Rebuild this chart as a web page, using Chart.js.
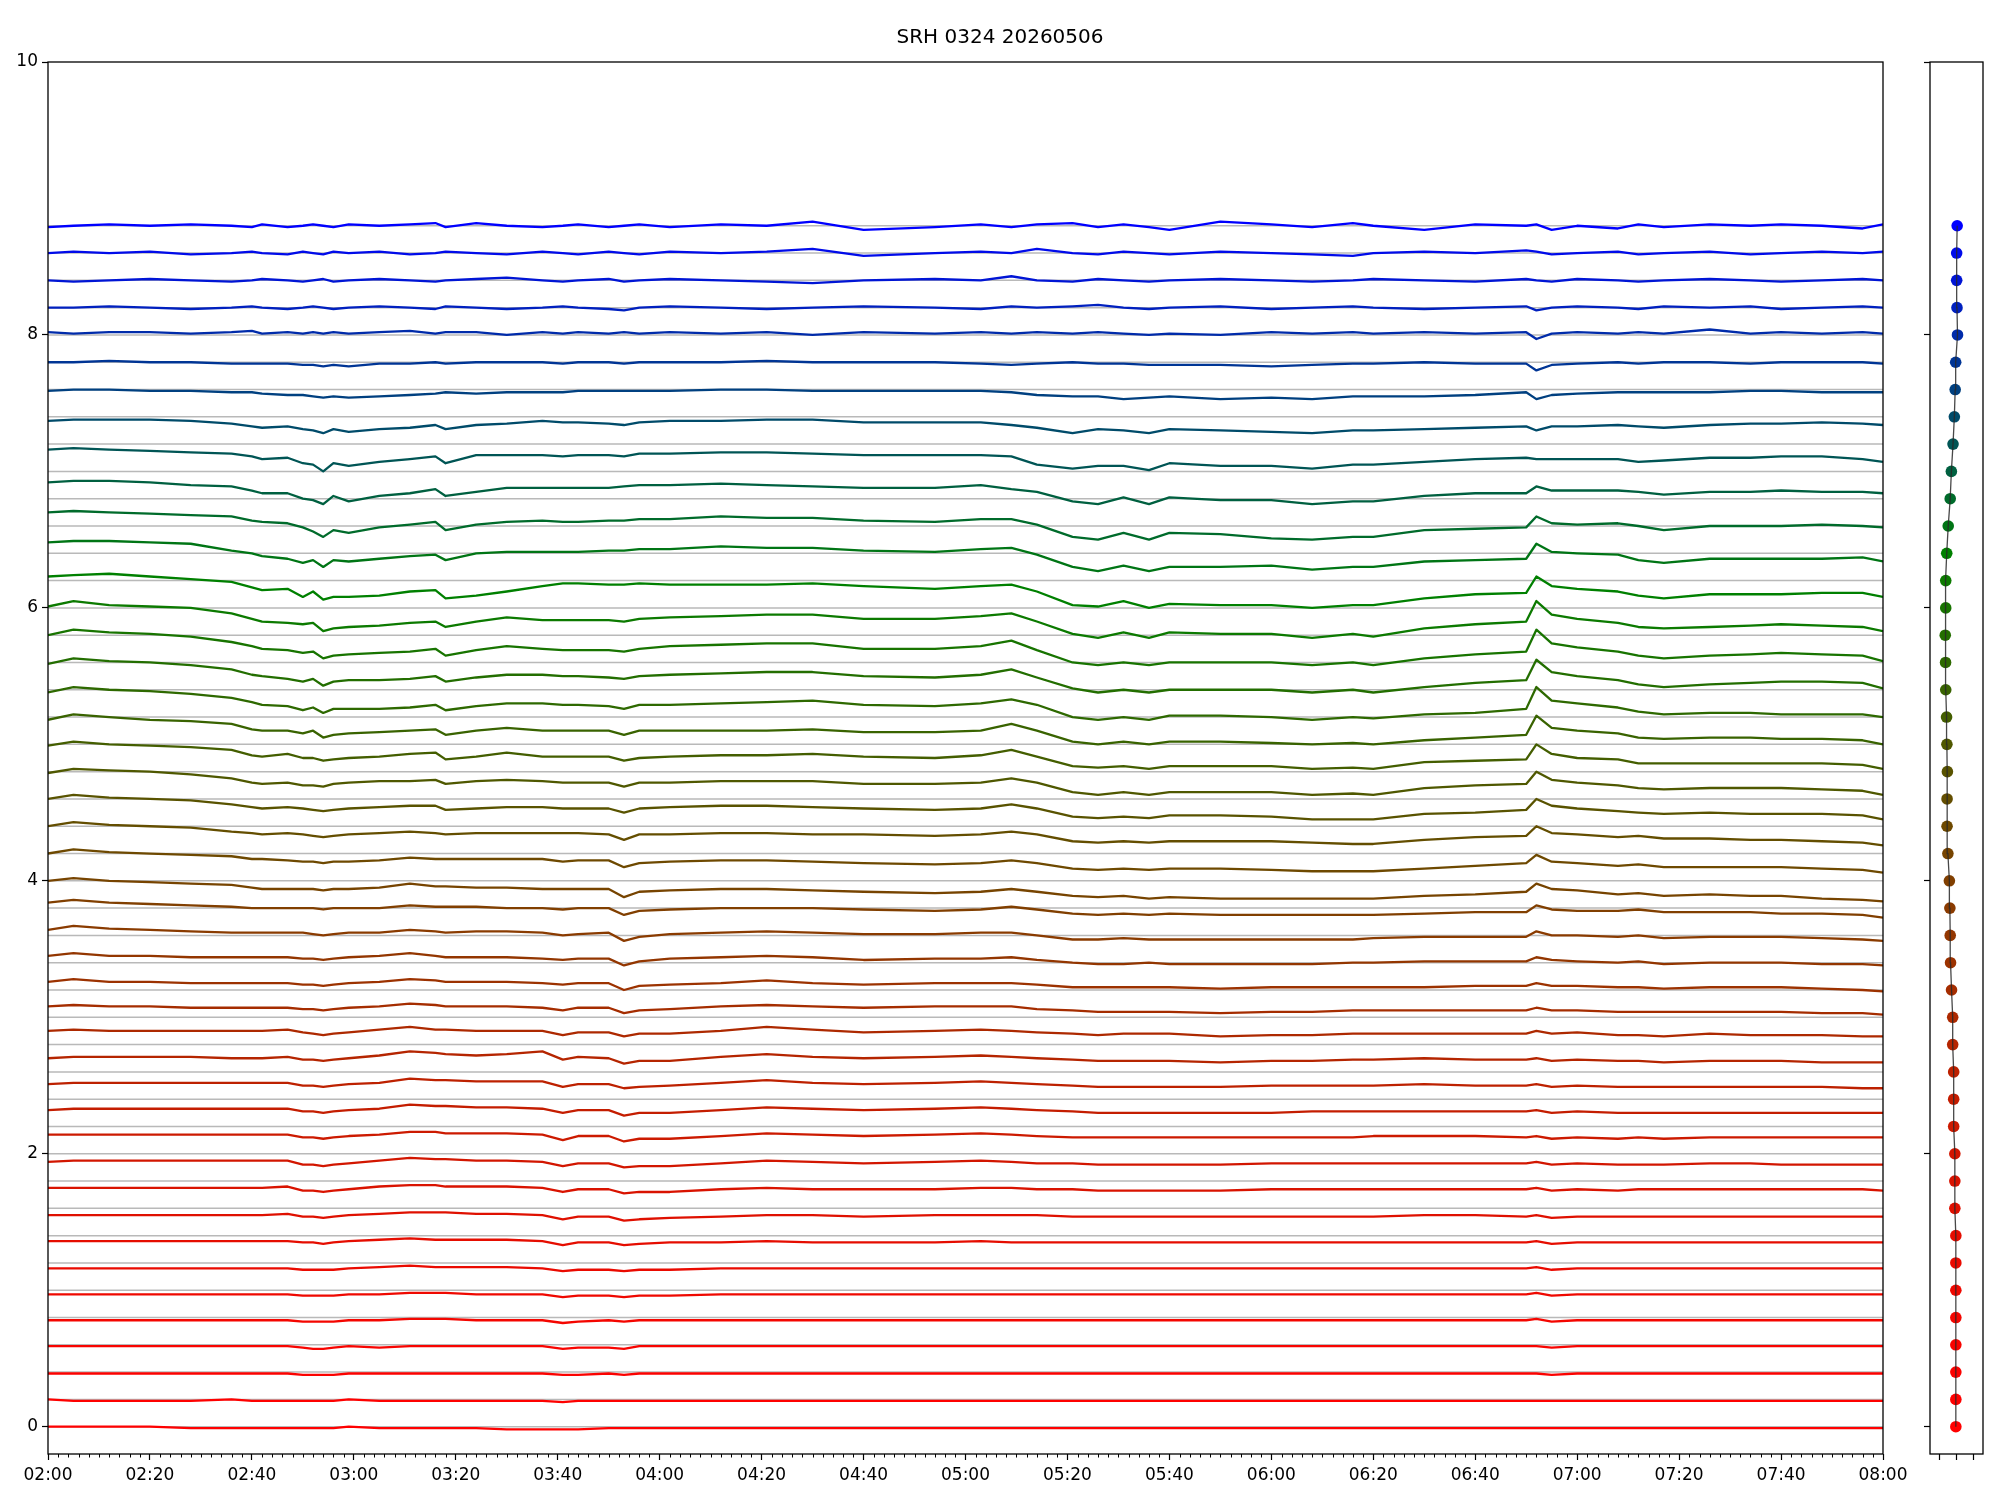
<!DOCTYPE html>
<html>
<head>
<meta charset="utf-8">
<title>SRH 0324 20260506</title>
<script src="https://cdn.jsdelivr.net/npm/chart.js@4.4.1/dist/chart.umd.min.js"></script>
<style>
  html, body { margin: 0; padding: 0; background: #fff; }
  #wrap { position: relative; width: 2000px; height: 1500px; }
  #main { position: absolute; left: 0; top: 0; }
  #side { position: absolute; left: 1900px; top: 0; }
</style>
</head>
<body>
<div id="wrap">
  <canvas id="main" width="1925" height="1500"></canvas>
  <canvas id="side" width="100" height="1500"></canvas>
</div>
<script>
const plotTitle = 'SRH 0324 20260506';

// minutes after 02:00
const times = [0,5,12,20,28,36,40,42,47,50,52,54,56,59,65,71,76,78,84,90,
  97,101,104,110,113,116,122,132,141,150,160,174,183,189,194,201,206,211,216,220,
  230,240,248,256,260,270,280,290,292,295,300,308,312,317,326,334,340,348,356,360];

const baselines = [0,0.2,0.4,0.6,0.8,1,1.2,1.4,1.6,1.8,2,2.2,2.4,2.6,2.8,3,3.2,3.4,3.6,3.8,
  4,4.2,4.4,4.6,4.8,5,5.2,5.4,5.6,5.8,6,6.2,6.4,6.6,6.8,7,7.2,7.4,7.6,7.8,8,8.2,8.4,8.6,8.8];

const yTicks = [0, 2, 4, 6, 8, 10];
const xMajorStep = 20;
const xMinorStep = 2;
const sideTicks = [-1, 0, 1];

// x position of each channel dot in the side panel (bottom to top)
const dotX = [-0.04,-0.04,-0.04,-0.04,-0.04,-0.04,-0.04,-0.04,-0.1,-0.1,
  -0.1,-0.17,-0.17,-0.17,-0.23,-0.23,-0.3,-0.36,-0.38,-0.4,
  -0.43,-0.52,-0.57,-0.57,-0.55,-0.58,-0.6,-0.65,-0.66,-0.68,
  -0.65,-0.65,-0.59,-0.5,-0.38,-0.31,-0.21,-0.13,-0.08,-0.05,
  0.06,0.03,0.01,0.01,0.04];

// trace offsets from each baseline, in hundredths (bottom to top)
const redRows = [
  [0,0,0,0,-1,-1,-1,-1,-1,-1,-1,-1,-1,0,-1,-1,-1,-1,-1,-2,-2,-2,-2,-1,-1,-1,-1,-1,-1,-1,-1,-1,-1,-1,-1,-1,-1,-1,-1,-1,-1,-1,-1,-1,-1,-1,-1,-1,-1,-1,-1,-1,-1,-1,-1,-1,-1,-1,-1,-1],
  [0,-1,-1,-1,-1,0,-1,-1,-1,-1,-1,-1,-1,0,-1,-1,-1,-1,-1,-1,-1,-2,-1,-1,-1,-1,-1,-1,-1,-1,-1,-1,-1,-1,-1,-1,-1,-1,-1,-1,-1,-1,-1,-1,-1,-1,-1,-1,-1,-1,-1,-1,-1,-1,-1,-1,-1,-1,-1,-1],
  [-1,-1,-1,-1,-1,-1,-1,-1,-1,-2,-2,-2,-2,-1,-1,-1,-1,-1,-1,-1,-1,-2,-2,-1,-2,-1,-1,-1,-1,-1,-1,-1,-1,-1,-1,-1,-1,-1,-1,-1,-1,-1,-1,-1,-1,-1,-1,-1,-1,-2,-1,-1,-1,-1,-1,-1,-1,-1,-1,-1],
  [-1,-1,-1,-1,-1,-1,-1,-1,-1,-2,-3,-3,-2,-1,-2,-1,-1,-1,-1,-1,-1,-3,-2,-2,-3,-1,-1,-1,-1,-1,-1,-1,-1,-1,-1,-1,-1,-1,-1,-1,-1,-1,-1,-1,-1,-1,-1,-1,-1,-2,-1,-1,-1,-1,-1,-1,-1,-1,-1,-1],
  [-2,-2,-2,-2,-2,-2,-2,-2,-2,-3,-3,-3,-3,-2,-2,-1,-1,-1,-2,-2,-2,-4,-3,-2,-3,-2,-2,-2,-2,-2,-2,-2,-2,-2,-2,-2,-2,-2,-2,-2,-2,-2,-2,-2,-2,-2,-2,-2,-1,-3,-2,-2,-2,-2,-2,-2,-2,-2,-2,-2],
  [-3,-3,-3,-3,-3,-3,-3,-3,-3,-4,-4,-4,-4,-3,-3,-2,-2,-2,-3,-3,-3,-5,-4,-4,-5,-4,-4,-3,-3,-3,-3,-3,-3,-3,-3,-3,-3,-3,-3,-3,-3,-3,-3,-3,-3,-3,-3,-3,-2,-4,-3,-3,-3,-3,-3,-3,-3,-3,-3,-3],
  [-4,-4,-4,-4,-4,-4,-4,-4,-4,-5,-5,-5,-5,-4,-3,-2,-3,-3,-3,-3,-4,-6,-5,-5,-6,-5,-5,-4,-4,-4,-4,-4,-4,-4,-4,-4,-4,-4,-4,-4,-4,-4,-4,-4,-4,-4,-4,-4,-3,-5,-4,-4,-4,-4,-4,-4,-4,-4,-4,-4],
  [-4,-4,-4,-4,-4,-4,-4,-4,-4,-5,-5,-6,-5,-4,-3,-2,-3,-3,-3,-3,-4,-7,-5,-5,-7,-6,-5,-5,-4,-5,-5,-5,-4,-5,-5,-5,-5,-5,-5,-5,-5,-5,-5,-5,-5,-5,-5,-5,-4,-6,-5,-5,-5,-5,-5,-5,-5,-5,-5,-5],
  [-5,-5,-5,-5,-5,-5,-5,-5,-4,-6,-6,-7,-6,-5,-4,-3,-3,-3,-4,-4,-5,-8,-6,-6,-9,-8,-7,-6,-5,-5,-6,-5,-5,-5,-5,-6,-6,-6,-6,-6,-6,-6,-6,-6,-6,-5,-5,-6,-5,-7,-6,-6,-6,-6,-6,-6,-6,-6,-6,-6]
];

const brownRows = [
  [-5,-5,-5,-5,-5,-5,-5,-5,-4,-7,-7,-8,-7,-6,-4,-3,-3,-4,-4,-4,-5,-8,-6,-6,-9,-8,-8,-6,-5,-6,-6,-6,-5,-5,-6,-6,-7,-7,-7,-7,-7,-6,-6,-6,-6,-6,-6,-6,-5,-7,-6,-7,-6,-6,-6,-6,-6,-6,-6,-7],
  [-6,-5,-5,-5,-5,-5,-5,-5,-5,-8,-8,-9,-8,-7,-5,-3,-4,-4,-5,-5,-6,-9,-7,-7,-10,-9,-9,-7,-5,-6,-7,-6,-5,-6,-7,-7,-8,-8,-8,-8,-8,-7,-7,-7,-7,-7,-7,-7,-6,-8,-7,-8,-8,-8,-7,-7,-8,-8,-8,-8],
  [-6,-6,-6,-6,-6,-6,-6,-6,-6,-8,-8,-9,-8,-7,-6,-4,-4,-5,-5,-5,-6,-10,-7,-7,-11,-9,-9,-7,-5,-6,-7,-6,-5,-6,-7,-8,-8,-8,-8,-8,-8,-8,-8,-8,-7,-7,-7,-8,-7,-9,-8,-9,-8,-9,-8,-8,-8,-8,-8,-8],
  [-8,-7,-7,-7,-7,-7,-7,-7,-7,-9,-9,-10,-9,-8,-7,-4,-5,-5,-6,-6,-7,-10,-8,-8,-12,-10,-10,-8,-6,-7,-8,-7,-6,-7,-8,-9,-10,-10,-10,-10,-10,-10,-9,-9,-9,-9,-9,-9,-8,-10,-9,-10,-10,-10,-10,-10,-10,-10,-10,-10],
  [-9,-8,-8,-8,-8,-8,-8,-8,-8,-10,-10,-11,-10,-9,-8,-5,-6,-6,-7,-7,-7,-11,-9,-9,-12,-11,-10,-8,-6,-8,-9,-8,-7,-8,-9,-10,-11,-11,-11,-11,-11,-10,-10,-10,-10,-9,-10,-10,-9,-11,-10,-11,-11,-11,-11,-11,-11,-11,-12,-12],
  [-10,-9,-9,-9,-9,-10,-10,-10,-9,-11,-11,-12,-11,-10,-8,-5,-6,-7,-8,-7,-5,-11,-9,-10,-14,-12,-12,-9,-7,-9,-10,-9,-8,-9,-10,-11,-12,-12,-12,-12,-13,-12,-12,-11,-11,-10,-11,-11,-10,-12,-11,-12,-12,-13,-12,-12,-12,-13,-13,-13],
  [-10,-9,-10,-10,-10,-10,-10,-10,-9,-11,-12,-13,-12,-11,-9,-7,-9,-9,-10,-10,-10,-13,-11,-11,-14,-12,-12,-10,-7,-9,-11,-10,-9,-10,-11,-12,-13,-12,-12,-12,-14,-13,-13,-12,-12,-12,-12,-12,-10,-12,-11,-13,-13,-14,-12,-13,-13,-13,-14,-14],
  [-12,-11,-12,-12,-13,-13,-13,-13,-13,-14,-14,-15,-14,-13,-12,-10,-11,-12,-12,-12,-13,-15,-13,-13,-17,-15,-14,-12,-11,-12,-13,-12,-12,-12,-14,-15,-16,-16,-16,-16,-17,-16,-16,-15,-15,-15,-15,-15,-13,-15,-15,-16,-16,-16,-16,-16,-16,-17,-17,-18],
  [-14,-12,-14,-14,-15,-15,-15,-15,-15,-16,-16,-17,-16,-15,-14,-12,-13,-14,-14,-14,-15,-16,-15,-15,-20,-17,-16,-15,-13,-15,-16,-15,-15,-15,-16,-18,-18,-18,-18,-18,-19,-18,-18,-18,-18,-18,-17,-17,-15,-17,-17,-18,-18,-19,-18,-18,-18,-19,-20,-21],
  [-15,-13,-15,-15,-16,-16,-16,-16,-16,-17,-17,-18,-17,-16,-15,-13,-15,-16,-16,-16,-17,-18,-17,-17,-22,-19,-17,-16,-15,-16,-18,-17,-17,-16,-18,-20,-21,-21,-20,-21,-21,-21,-21,-20,-20,-19,-19,-19,-16,-18,-19,-20,-19,-21,-20,-20,-20,-21,-21,-22],
  [-16,-13,-15,-16,-17,-18,-18,-18,-18,-18,-19,-20,-19,-18,-18,-16,-17,-18,-17,-17,-18,-20,-19,-18,-24,-21,-19,-18,-17,-18,-19,-19,-18,-18,-20,-23,-23,-22,-23,-23,-23,-23,-23,-23,-22,-21,-21,-21,-17,-20,-20,-21,-20,-22,-21,-21,-21,-22,-23,-24],
  [-16,-14,-16,-17,-18,-19,-20,-20,-20,-20,-20,-21,-20,-20,-20,-18,-19,-19,-19,-20,-20,-21,-20,-20,-25,-22,-21,-20,-20,-20,-21,-22,-21,-19,-21,-24,-25,-24,-25,-24,-25,-25,-25,-25,-25,-24,-23,-23,-18,-21,-22,-22,-21,-23,-23,-23,-24,-24,-25,-27]
];

const oliveRows = [
  [-20,-18,-20,-21,-22,-23,-25,-26,-26,-26,-26,-27,-26,-26,-25,-22,-24,-24,-25,-25,-26,-26,-26,-26,-32,-28,-27,-26,-26,-27,-28,-29,-28,-26,-28,-31,-32,-31,-33,-32,-33,-33,-33,-33,-33,-31,-30,-28,-22,-26,-27,-30,-29,-31,-30,-31,-31,-33,-34,-35],
  [-20,-17,-19,-20,-21,-22,-24,-24,-25,-26,-26,-27,-26,-26,-25,-23,-24,-24,-24,-24,-24,-26,-25,-25,-30,-27,-26,-25,-25,-26,-27,-28,-27,-25,-27,-31,-32,-31,-32,-31,-31,-32,-33,-33,-33,-31,-29,-27,-21,-26,-27,-29,-28,-30,-30,-30,-30,-31,-32,-34],
  [-20,-17,-19,-20,-21,-24,-25,-26,-25,-26,-27,-28,-27,-26,-25,-24,-25,-26,-25,-25,-25,-25,-25,-26,-30,-26,-26,-25,-25,-26,-26,-27,-26,-24,-26,-31,-32,-31,-32,-31,-31,-31,-32,-33,-33,-30,-28,-27,-20,-25,-26,-28,-27,-29,-29,-30,-30,-31,-32,-34],
  [-20,-17,-19,-20,-21,-24,-26,-27,-26,-27,-28,-29,-28,-27,-26,-25,-25,-28,-27,-26,-26,-27,-27,-27,-30,-27,-26,-25,-25,-26,-27,-28,-27,-24,-27,-33,-34,-33,-34,-32,-32,-33,-35,-35,-35,-31,-30,-28,-20,-25,-27,-29,-30,-31,-30,-31,-31,-31,-32,-35],
  [-21,-18,-19,-20,-22,-25,-28,-29,-28,-30,-30,-31,-29,-28,-27,-27,-26,-29,-27,-26,-27,-28,-28,-28,-31,-28,-28,-27,-27,-27,-29,-29,-28,-25,-28,-35,-37,-35,-37,-35,-35,-35,-37,-36,-37,-32,-30,-29,-20,-26,-28,-30,-32,-33,-32,-32,-32,-33,-34,-37],
  [-21,-18,-20,-21,-22,-24,-28,-29,-27,-30,-30,-32,-31,-30,-29,-27,-26,-31,-29,-26,-29,-29,-29,-29,-32,-30,-29,-28,-28,-27,-29,-30,-28,-24,-29,-36,-37,-36,-38,-36,-36,-36,-38,-37,-38,-33,-32,-31,-20,-27,-30,-31,-34,-34,-34,-34,-34,-34,-35,-38],
  [-22,-18,-20,-22,-23,-25,-29,-30,-30,-32,-30,-35,-33,-32,-31,-30,-29,-33,-30,-28,-30,-30,-30,-30,-33,-30,-30,-30,-30,-29,-31,-31,-30,-25,-30,-38,-40,-38,-40,-38,-38,-39,-40,-39,-40,-37,-35,-33,-19,-28,-30,-32,-35,-36,-35,-35,-36,-36,-37,-40]
];

const greenRows = [
  [-22,-18,-20,-21,-23,-26,-29,-31,-32,-35,-33,-37,-34,-34,-34,-33,-31,-35,-32,-30,-30,-31,-31,-32,-34,-31,-31,-30,-29,-28,-31,-32,-30,-27,-31,-40,-42,-40,-42,-39,-39,-40,-42,-40,-41,-38,-37,-34,-18,-28,-30,-33,-36,-38,-37,-37,-38,-38,-38,-40],
  [-21,-17,-19,-20,-22,-25,-29,-30,-32,-34,-32,-37,-34,-33,-33,-32,-30,-34,-31,-29,-29,-30,-30,-31,-32,-30,-29,-28,-27,-27,-30,-31,-29,-25,-31,-39,-42,-40,-42,-40,-40,-40,-42,-40,-42,-38,-35,-33,-18,-27,-30,-33,-36,-38,-36,-35,-34,-34,-35,-39],
  [-20,-16,-18,-19,-21,-25,-28,-30,-31,-33,-32,-37,-35,-34,-33,-32,-30,-35,-31,-28,-30,-31,-31,-31,-32,-30,-28,-27,-26,-26,-30,-30,-28,-24,-31,-40,-42,-40,-42,-40,-40,-40,-42,-40,-42,-37,-34,-32,-16,-26,-29,-32,-35,-37,-35,-34,-33,-34,-35,-39],
  [-19,-15,-18,-19,-20,-24,-28,-30,-31,-32,-31,-37,-35,-34,-33,-31,-30,-34,-30,-27,-29,-29,-29,-29,-30,-28,-27,-26,-25,-25,-28,-28,-26,-24,-30,-39,-42,-38,-42,-38,-39,-39,-42,-39,-41,-35,-32,-30,-15,-25,-28,-31,-34,-35,-34,-33,-32,-33,-34,-37],
  [-17,-16,-15,-17,-19,-21,-25,-27,-26,-32,-28,-34,-32,-32,-31,-28,-27,-33,-31,-28,-24,-22,-22,-23,-23,-22,-23,-23,-23,-22,-24,-26,-24,-23,-28,-38,-39,-35,-40,-37,-38,-38,-40,-38,-38,-33,-30,-29,-17,-24,-26,-28,-31,-33,-30,-30,-30,-29,-29,-32],
  [-12,-11,-11,-12,-13,-18,-20,-22,-24,-27,-25,-30,-25,-26,-24,-22,-21,-25,-20,-19,-19,-19,-19,-18,-18,-17,-17,-15,-16,-16,-18,-19,-17,-16,-21,-30,-33,-29,-33,-30,-30,-29,-32,-30,-30,-26,-25,-24,-13,-19,-20,-21,-25,-27,-24,-24,-24,-24,-23,-26],
  [-10,-9,-10,-11,-12,-13,-16,-17,-18,-21,-24,-28,-23,-25,-21,-19,-17,-23,-19,-17,-16,-17,-17,-16,-16,-15,-15,-13,-14,-14,-16,-17,-15,-15,-19,-28,-30,-25,-30,-25,-26,-29,-30,-28,-28,-23,-22,-21,-13,-18,-19,-18,-20,-23,-20,-20,-20,-19,-20,-21],
  [-8,-7,-7,-8,-10,-11,-14,-16,-16,-20,-21,-24,-18,-22,-18,-16,-13,-18,-15,-12,-12,-12,-12,-12,-11,-10,-10,-9,-10,-11,-12,-12,-10,-13,-15,-22,-24,-19,-24,-19,-21,-21,-24,-22,-22,-18,-16,-16,-11,-14,-14,-14,-15,-17,-15,-15,-14,-15,-15,-16]
];

const tealRows = [
  [-4,-3,-4,-5,-6,-7,-9,-11,-10,-14,-15,-20,-14,-16,-13,-11,-9,-14,-8,-8,-8,-9,-8,-8,-9,-7,-7,-6,-6,-7,-8,-8,-8,-9,-15,-18,-16,-16,-19,-14,-16,-16,-18,-15,-15,-13,-11,-10,-11,-11,-11,-11,-13,-12,-10,-10,-9,-9,-11,-13],
  [-3,-2,-2,-2,-3,-5,-7,-8,-7,-9,-10,-12,-9,-11,-9,-8,-6,-9,-6,-5,-3,-4,-4,-5,-6,-4,-3,-3,-2,-2,-4,-4,-4,-6,-8,-12,-9,-10,-12,-9,-10,-11,-12,-10,-10,-9,-8,-7,-10,-7,-7,-6,-7,-8,-6,-5,-5,-4,-5,-6],
  [-1,0,0,-1,-1,-2,-2,-3,-4,-4,-5,-6,-5,-6,-5,-4,-3,-2,-3,-2,-2,-2,-1,-1,-1,-1,-1,0,0,-1,-1,-1,-1,-2,-4,-5,-5,-7,-6,-5,-7,-6,-7,-5,-5,-5,-4,-2,-7,-4,-3,-2,-2,-2,-2,-1,-1,-2,-2,-2],
  [0,0,1,0,0,-1,-1,-1,-1,-2,-2,-3,-2,-3,-1,-1,0,-1,0,0,0,-1,0,0,-1,0,0,0,1,0,0,0,-1,-2,-1,0,-1,-1,-2,-2,-2,-3,-2,-1,-1,0,-1,-1,-6,-2,-1,0,-1,0,0,-1,0,0,0,-1]
];

const blueRows = [
  [2,1,2,2,1,2,3,1,2,1,2,1,2,1,2,3,1,2,2,0,2,1,2,1,2,1,2,1,2,0,2,1,2,1,2,1,2,1,0,1,0,2,1,2,1,2,1,2,-3,1,2,1,2,1,4,1,2,1,2,1],
  [0,0,1,0,-1,0,1,0,-1,0,1,0,-1,0,1,0,-1,1,0,-1,0,1,0,-1,-2,0,1,0,-1,0,1,0,-1,1,0,1,2,0,-1,0,1,-1,0,1,0,-1,0,1,-2,0,1,0,-1,1,0,1,-1,0,1,0],
  [0,-1,0,1,0,-1,0,1,0,-1,0,1,-1,0,1,0,-1,0,1,2,0,-1,0,1,-1,0,1,0,-1,-2,0,1,0,3,0,-1,1,0,-1,0,1,0,-1,0,1,0,-1,1,0,-1,1,0,-1,0,1,0,-1,0,1,0],
  [0,1,0,1,-1,0,1,0,-1,1,0,-1,1,0,1,-1,0,1,0,-1,1,0,-1,1,0,-1,1,0,1,3,-2,0,1,0,3,0,-1,1,0,-1,1,0,-1,-2,0,1,0,2,1,-1,0,1,-1,0,1,-1,0,1,0,1],
  [-1,0,1,0,1,0,-1,1,-1,0,1,0,-1,1,0,1,2,-1,2,0,-1,0,1,-1,0,1,-1,1,0,3,-3,-1,1,-1,1,2,-1,1,-1,-3,3,1,-1,2,0,-3,1,0,1,-3,0,-2,1,-1,1,0,1,0,-2,1]
];

const rows = [...redRows, ...brownRows, ...oliveRows, ...greenRows, ...tealRows, ...blueRows];

// red -> green -> blue palette across the channels
function rowColor(i) {
  const last = baselines.length - 1;
  const mid = 32;
  let c;
  if (i <= mid) {
    const s = Math.pow(i / mid, 1.5);
    c = [255 * (1 - s), 128 * s, 0];
  } else {
    const s = (i - mid) / (last - mid);
    c = [0, 128 * (1 - s), 255 * s];
  }
  return 'rgb(' + c.map(Math.round).join(',') + ')';
}

function clockLabel(v) {
  const h = 2 + Math.floor(v / 60);
  const m = v % 60;
  return String(h).padStart(2, '0') + ':' + String(m).padStart(2, '0');
}

function rangeSteps(from, to, step) {
  const out = [];
  for (let v = from; v <= to; v += step) out.push(v);
  return out;
}

const tStart = times[0];
const tEnd = times[times.length - 1];
const tickFont = { family: 'DejaVu Sans', size: 17 };

const frameBox = {
  id: 'frameBox',
  afterDraw(chart) {
    const { ctx, chartArea: a } = chart;
    ctx.save();
    ctx.strokeStyle = '#000';
    ctx.lineWidth = 1.3;
    ctx.strokeRect(a.left, a.top, a.right - a.left, a.bottom - a.top);
    ctx.restore();
  }
};

const minorTicks = {
  id: 'minorTicks',
  afterDraw(chart) {
    const { ctx, chartArea: a } = chart;
    const xs = chart.scales.x;
    ctx.save();
    ctx.strokeStyle = '#000';
    ctx.lineWidth = 1;
    ctx.beginPath();
    rangeSteps(tStart, tEnd, xMinorStep).forEach(v => {
      if (v % xMajorStep === 0) return;
      const px = Math.round(xs.getPixelForValue(v)) + 0.5;
      ctx.moveTo(px, a.bottom);
      ctx.lineTo(px, a.bottom + 3.5);
    });
    ctx.stroke();
    ctx.restore();
  }
};

const titleText = {
  id: 'titleText',
  afterDraw(chart) {
    const ctx = chart.ctx;
    ctx.save();
    ctx.fillStyle = '#000';
    ctx.font = '20px "DejaVu Sans"';
    ctx.textAlign = 'center';
    ctx.textBaseline = 'middle';
    ctx.fillText(plotTitle, 1000, 38);
    ctx.restore();
  }
};

const guideSets = baselines.map(b => ({
  data: [{ x: tStart, y: b }, { x: tEnd, y: b }],
  borderColor: 'rgb(185,185,185)',
  borderWidth: 1.5,
  pointRadius: 0,
  order: 2
}));

const traceSets = rows.map((row, i) => ({
  data: row.map((d, k) => ({ x: times[k], y: baselines[i] + d / 100 })),
  borderColor: rowColor(i),
  borderWidth: 2.3,
  borderJoinStyle: 'round',
  pointRadius: 0,
  order: 1
}));

new Chart(document.getElementById('main'), {
  type: 'line',
  data: { datasets: [...traceSets, ...guideSets] },
  options: {
    responsive: false,
    animation: false,
    devicePixelRatio: 1,
    parsing: false,
    layout: { padding: { left: 0, top: 62, right: 42, bottom: 0 } },
    plugins: { legend: { display: false }, tooltip: { enabled: false } },
    elements: { line: { tension: 0 } },
    scales: {
      x: {
        type: 'linear',
        min: tStart,
        max: tEnd,
        afterBuildTicks: ax => { ax.ticks = rangeSteps(tStart, tEnd, xMajorStep).map(v => ({ value: v })); },
        afterFit: ax => { ax.height = 46; },
        ticks: { autoSkip: false, maxRotation: 0, padding: 5, color: '#000', font: tickFont, callback: v => clockLabel(v) },
        grid: { drawOnChartArea: false, tickLength: 6, tickColor: '#000', tickWidth: 1.2 },
        border: { display: false }
      },
      y: {
        type: 'linear',
        min: -0.2,
        max: 10,
        afterBuildTicks: ax => { ax.ticks = yTicks.map(v => ({ value: v })); },
        afterFit: ax => { ax.width = 48; },
        ticks: { padding: 4, color: '#000', font: tickFont, callback: v => String(v) },
        grid: { drawOnChartArea: false, tickLength: 6, tickColor: '#000', tickWidth: 1.2 },
        border: { display: false }
      }
    }
  },
  plugins: [frameBox, minorTicks, titleText]
});

const dotPoints = baselines.map((b, i) => ({ x: dotX[i], y: b }));

new Chart(document.getElementById('side'), {
  type: 'scatter',
  data: {
    datasets: [
      {
        data: dotPoints,
        showLine: true,
        borderColor: 'rgba(40,40,40,0.85)',
        borderWidth: 1.3,
        pointRadius: 0,
        order: 0
      },
      {
        data: dotPoints,
        showLine: false,
        pointRadius: 5.8,
        pointBorderWidth: 0,
        pointBackgroundColor: baselines.map((b, i) => rowColor(i)),
        order: 1
      }
    ]
  },
  options: {
    responsive: false,
    animation: false,
    devicePixelRatio: 1,
    parsing: false,
    layout: { padding: { left: 0, top: 62, right: 17, bottom: 0 } },
    plugins: { legend: { display: false }, tooltip: { enabled: false } },
    scales: {
      x: {
        type: 'linear',
        min: -1.6,
        max: 1.6,
        afterBuildTicks: ax => { ax.ticks = sideTicks.map(v => ({ value: v })); },
        afterFit: ax => { ax.height = 46; },
        ticks: { display: false },
        grid: { drawOnChartArea: false, tickLength: 6, tickColor: '#000', tickWidth: 1.2 },
        border: { display: false }
      },
      y: {
        type: 'linear',
        min: -0.2,
        max: 10,
        afterBuildTicks: ax => { ax.ticks = yTicks.map(v => ({ value: v })); },
        afterFit: ax => { ax.width = 30; },
        ticks: { display: false },
        grid: { drawOnChartArea: false, tickLength: 6, tickColor: '#000', tickWidth: 1.2 },
        border: { display: false }
      }
    }
  },
  plugins: [frameBox]
});
</script>
</body>
</html>
